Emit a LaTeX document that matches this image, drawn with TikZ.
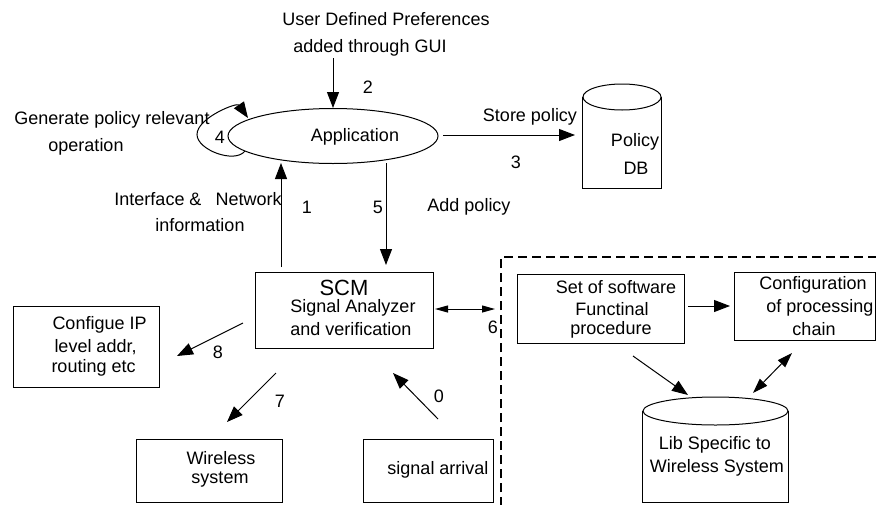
\documentclass[tikz,border=0pt]{standalone}
\usepackage{fontspec}
\setmainfont{Liberation Sans}
\usetikzlibrary{shapes.geometric,arrows.meta}
\begin{document}
\begin{tikzpicture}[x=1pt,y=-1pt,line width=1pt,
  every node/.style={font=\fontsize{18}{22}\selectfont,inner sep=0pt},
  arr/.style={-{Triangle[length=16pt,width=12pt]}},
  darr/.style={{Triangle[length=15pt,width=10pt]}-{Triangle[length=15pt,width=10pt]}},
  sarr/.style={{Triangle[length=13pt,width=7pt]}-{Triangle[length=13pt,width=7pt]}},
  box/.style={draw,rectangle,inner sep=0pt},
  big/.style={font=\fontsize{22}{26}\selectfont}]
\useasboundingbox (0,0) rectangle (876,504);

% dashed region
\coordinate (dbl) at (501,520);
\coordinate (dtl) at (501,257);
\coordinate (dtr) at (900,257);
\draw[line width=1.4pt,dash pattern=on 9pt off 5pt] (dbl) -- (dtl) -- (dtr);

% top text
\node (udp) at (386,19) {User Defined Preferences};
\node (agu) at (370,48) {added through GUI};

% application ellipse
\node[draw,ellipse,minimum width=210,minimum height=55] (app) at (333,136) {};
\node (appt) at (355,137) {Application};

% policy DB cylinder
\node[minimum width=78,minimum height=104] (db) at (622,136) {};
\draw (db.west |- 0,97) -- (db.south west) -- (db.south east) -- (db.east |- 0,97);
\draw (622,97) ellipse [x radius=39,y radius=13];
\node (dbt1) at (635,142) {Policy};
\node (dbt2) at (636,168) {DB};

% SCM box
\node[box,minimum width=178,minimum height=76] (scm) at (344,310) {};
\node[big] (scmt) at (344,288) {SCM};
\node (scm2) at (353,308) {Signal Analyzer};
\node (scm3) at (351,329) {and verification};

% configure IP box
\node[box,minimum width=146,minimum height=81] (cip) at (86,346.5) {};
\node[anchor=west] (cip1) at (52,325) {Configue IP};
\node[anchor=west] (cip2) at (54,347) {level addr,};
\node[anchor=west] (cip3) at (51,368) {routing etc};

% wireless system box
\node[box,minimum width=146,minimum height=63] (wls) at (209,470.5) {};
\node (wls1) at (221,458) {Wireless};
\node (wls2) at (220,480) {system};

% signal arrival box
\node[box,minimum width=130,minimum height=63] (sig) at (428,470.5) {};
\node (sigt) at (438,470) {signal arrival};

% set of software box
\node[box,minimum width=167,minimum height=69] (sw) at (600.5,308.5) {};
\node (sw1) at (616,287) {Set of software};
\node (sw2) at (612,309) {Functinal};
\node (sw3) at (611,330) {procedure};

% configuration box
\node[box,minimum width=141,minimum height=68] (conf) at (804.5,306) {};
\node (cf1) at (813,285) {Configuration};
\node (cf2) at (820,308) {of processing};
\node (cf3) at (814,329) {chain};

% lib cylinder
\node[minimum width=145,minimum height=105] (lib) at (715.5,449.5) {};
\draw (lib.west |- 0,411) -- (lib.south west) -- (lib.south east) -- (lib.east |- 0,411);
\draw (715.5,411) ellipse [x radius=72.5,y radius=14];
\node (lib1) at (715,445) {Lib Specific to};
\node (lib2) at (717,468) {Wireless System};

% labels
\node (gen1) at (112,120) {Generate policy relevant};
\node (gen2) at (86,147) {operation};
\node (l4) at (220,137) {4};
\node (l2) at (368,87) {2};
\node (ifn1) at (198,199) {Interface \&\hspace{14pt}Network};
\node (ifn2) at (200,225) {information};
\node (l1) at (307,207) {1};
\node (l5) at (378,207) {5};
\node (addp) at (469,207) {Add policy};
\node (stp) at (530,117) {Store policy};
\node (l3) at (516,162) {3};
\node (l8) at (218,352) {8};
\node (l7) at (280,401) {7};
\node (l0) at (439,396) {0};
\node (l6) at (493,327) {6};

% connector end points
\coordinate (a2s) at (333,58);
\coordinate (a3s) at (443,135);
\coordinate (a3e) at (575,135);
\coordinate (a1s) at (281,267);
\coordinate (a1e) at (281,163);
\coordinate (a5s) at (386,163);
\coordinate (a5e) at (386,265);
\coordinate (a8s) at (243,323);
\coordinate (a8e) at (177,356);
\coordinate (a7s) at (276,373);
\coordinate (a7e) at (227,422);
\coordinate (a0s) at (438,419);
\coordinate (a0e) at (393,373);
\coordinate (a6s) at (435,309);
\coordinate (a6e) at (495,309);
\coordinate (swcs) at (688,306);
\coordinate (swce) at (730,306);
\coordinate (swls) at (633,356);
\coordinate (swle) at (688,395);
\coordinate (cls) at (792,353);
\coordinate (cle) at (753,393);
\coordinate (lps) at (245,151);
\coordinate (lpe) at (248,118);

% connectors
\draw[arr] (a2s) -- (app.north);
\draw[arr] (a3s) -- (a3e);
\draw[arr] (a1s) -- (a1e);
\draw[arr] (a5s) -- (a5e);
\draw[arr] (a8s) -- (a8e);
\draw[arr] (a7s) -- (a7e);
\draw[arr] (a0s) -- (a0e);
\draw[sarr] (a6s) -- (a6e);
\draw[arr] (swcs) -- (swce);
\draw[arr] (swls) -- (swle);
\draw[darr] (cls) -- (cle);
\draw[arr] (lps) .. controls (235,164) and (197,150) .. (197,134.5)
  .. controls (197,118) and (237,102) .. (lpe);
\end{tikzpicture}
\end{document}
